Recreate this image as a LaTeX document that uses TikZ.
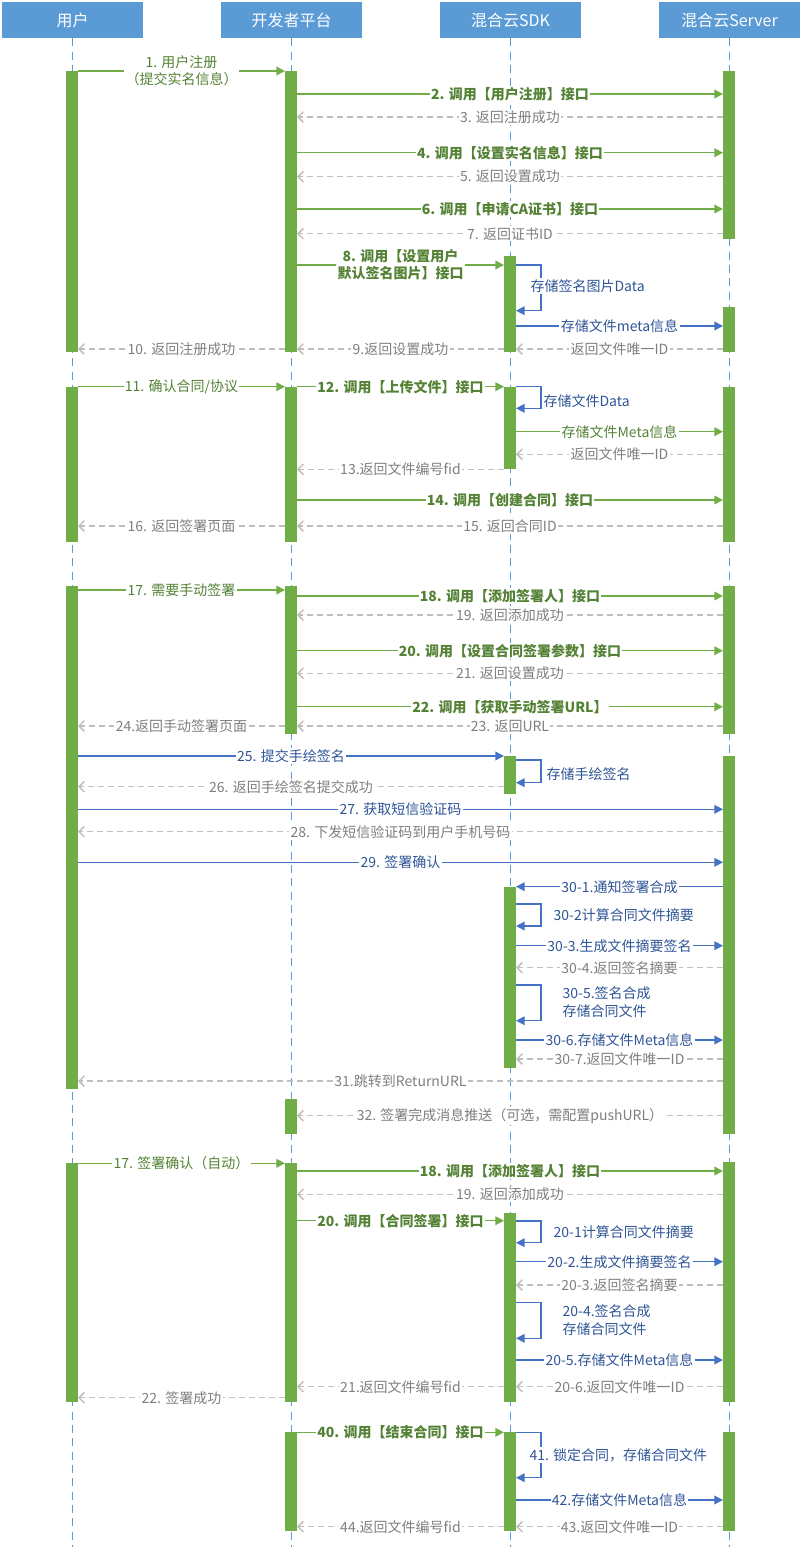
\documentclass[tikz,border=0pt]{standalone}
\usepackage{fontspec}
\setmainfont{Noto Sans CJK SC}
\usetikzlibrary{arrows.meta}
\definecolor{hdr}{HTML}{5B9BD5}
\definecolor{barG}{HTML}{70AD47}
\definecolor{lineG}{HTML}{70AD47}
\definecolor{txtG}{HTML}{548235}
\definecolor{lineB}{HTML}{4472C4}
\definecolor{txtB}{HTML}{2F5597}
\definecolor{lineR}{HTML}{BFBFBF}
\definecolor{txtR}{HTML}{7F7F7F}
\newcommand\abar[4]{\pgfmathsetmacro\bh{(#4-#3)*0.75}\node[actbar, minimum height=\bh pt] (#1) at (#2,#3) {};}
\newcommand\msg[5]{\draw[#1] (#2 |- 0,#4) -- node[lbl,lbl#1] {#5} (#3 |- 0,#4);}
\newcommand\selfloop[3]{\draw[loopst] (#1.east |- 0,#2) -- ++(25,0) |- (#1.east |- 0,#3);}
\begin{document}
\begin{tikzpicture}[x=0.75pt,y=-0.75pt, font=\fontsize{10.5}{13}\selectfont,
 hdrbox/.style={fill=hdr, text=white, minimum width=105.75pt, minimum height=27pt, inner sep=0pt, font=\fontsize{12}{14}\selectfont},
 lifeline/.style={draw=hdr, line width=0.75pt, dash pattern=on 6pt off 4pt},
 actbar/.style={fill=barG, minimum width=9pt, inner sep=0pt, outer sep=0pt, anchor=north},
 lbl/.style={fill=white, inner sep=1pt, midway, align=center},
 ug/.style={draw=lineG, line width=1.1pt, -{Triangle[length=6.5pt,width=6.5pt]}},
 call/.style={draw=lineG, line width=1.1pt, -{Triangle[length=6.5pt,width=6.5pt]}},
 bl/.style={draw=lineB, line width=1.1pt, -{Triangle[length=6.5pt,width=6.5pt]}},
 ret/.style={draw=lineR, line width=1.1pt, dash pattern=on 4.5pt off 3pt, -{Straight Barb[length=4pt,width=8pt]}},
 lblug/.style={text=txtG},
 lblcall/.style={text=txtG, font=\fontsize{10.5}{13}\selectfont\bfseries},
 lblbl/.style={text=txtB},
 lblret/.style={text=txtR},
 loopst/.style={draw=lineB, line width=1.1pt, -{Triangle[length=6.5pt,width=6.5pt]}},
 looplbl/.style={anchor=west, text=txtB, fill=white, inner sep=1pt, align=left}
]
\useasboundingbox (0,0) rectangle (802,1547);
% headers
\node[hdrbox] (hU) at (72.5,20) {用户};
\node[hdrbox] (hD) at (291.5,20) {开发者平台};
\node[hdrbox] (hK) at (510.5,20) {混合云SDK};
\node[hdrbox] (hS) at (729.5,20) {混合云Server};
\foreach \h in {hU,hD,hK,hS}{\draw[lifeline] (\h.south) -- (\h.south |- 0,1547);}
% activation bars
\abar{u1}{72}{71}{352}
\abar{d1}{291}{71}{352}
\abar{s1}{729}{71}{239}
\abar{k1}{510}{256}{352}
\abar{s2}{729}{307}{352}
\abar{u2}{72}{386.7}{541.7}
\abar{d2}{291}{386.7}{541.7}
\abar{k2}{510}{386.7}{469.3}
\abar{s3}{729}{386.7}{541.7}
\abar{u3}{72}{586}{1089}
\abar{d3}{291}{586}{734}
\abar{s4}{729}{586}{734}
\abar{k3}{510}{756}{794}
\abar{s5}{729}{756}{1134}
\abar{k4}{510}{886.7}{1067.7}
\abar{d4}{291}{1099.3}{1134}
\abar{u4}{72}{1163.3}{1402}
\abar{d5}{291}{1163.3}{1402}
\abar{s6}{729}{1162.3}{1402}
\abar{k5}{510}{1213.3}{1402}
\abar{d6}{291}{1432.3}{1530.7}
\abar{k6}{510}{1432.3}{1530.7}
\abar{s7}{729}{1432.3}{1530.7}
% section 1
\msg{ug}{u1.east}{d1.west}{71}{1. 用户注册\\（提交实名信息）}
\msg{call}{d1.east}{s1.west}{94}{2. 调用【用户注册】接口}
\msg{ret}{s1.west}{d1.east}{117}{3. 返回注册成功}
\msg{call}{d1.east}{s1.west}{152.7}{4. 调用【设置实名信息】接口}
\msg{ret}{s1.west}{d1.east}{176.7}{5. 返回设置成功}
\msg{call}{d1.east}{s1.west}{209}{6. 调用【申请CA证书】接口}
\msg{ret}{s1.west}{d1.east}{233.7}{7. 返回证书ID}
\msg{call}{d1.east}{k1.west}{265}{8. 调用【设置用户\\默认签名图片】接口}
\selfloop{k1}{265}{310.7}
\node[looplbl] (l1) at (529,285.7) {存储签名图片Data};
\msg{bl}{k1.east}{s2.west}{326}{存储文件meta信息}
\msg{ret}{d1.west}{u1.east}{349}{10. 返回注册成功}
\msg{ret}{k1.west}{d1.east}{349}{9.返回设置成功}
\msg{ret}{s2.west}{k1.east}{349}{返回文件唯一ID}
% section 2
\msg{ug}{u2.east}{d2.west}{386.7}{11. 确认合同/协议}
\msg{call}{d2.east}{k2.west}{386.7}{12. 调用【上传文件】接口}
\selfloop{k2}{386.7}{408.3}
\node[looplbl] (l2) at (542,400.7) {存储文件Data};
\msg{ug}{k2.east}{s3.west}{431.7}{存储文件Meta信息}
\msg{ret}{s3.west}{k2.east}{454.3}{返回文件唯一ID}
\msg{ret}{k2.west}{d2.east}{469.3}{13.返回文件编号fid}
\msg{call}{d2.east}{s3.west}{500}{14. 调用【创建合同】接口}
\msg{ret}{d2.west}{u2.east}{526}{16. 返回签署页面}
\msg{ret}{s3.west}{d2.east}{526}{15. 返回合同ID}
% section 3
\msg{ug}{u3.east}{d3.west}{590}{17. 需要手动签署}
\msg{call}{d3.east}{s4.west}{596}{18. 调用【添加签署人】接口}
\msg{ret}{s4.west}{d3.east}{615}{19. 返回添加成功}
\msg{call}{d3.east}{s4.west}{650.7}{20. 调用【设置合同签署参数】接口}
\msg{ret}{s4.west}{d3.east}{673.3}{21. 返回设置成功}
\msg{call}{d3.east}{s4.west}{706.7}{22. 调用【获取手动签署URL】}
\msg{ret}{d3.west}{u3.east}{726}{24.返回手动签署页面}
\msg{ret}{s4.west}{d3.east}{726}{23. 返回URL}
\msg{bl}{u3.east}{k3.west}{756}{25. 提交手绘签名}
\selfloop{k3}{760}{782.7}
\node[looplbl] (l3) at (545,774) {存储手绘签名};
\msg{ret}{k3.west}{u3.east}{786.7}{26. 返回手绘签名提交成功}
\msg{bl}{u3.east}{s5.west}{809.3}{27. 获取短信验证码}
\msg{ret}{s5.west}{u3.east}{831.7}{28. 下发短信验证码到用户手机号码}
\msg{bl}{u3.east}{s5.west}{862.3}{29. 签署确认}
\msg{bl}{s5.west}{k4.east}{886.7}{30-1.通知签署合成}
\selfloop{k4}{904}{926}
\node[looplbl] (l4) at (552,915) {30-2计算合同文件摘要};
\msg{bl}{k4.east}{s5.west}{945.7}{30-3.生成文件摘要签名}
\msg{ret}{s5.west}{k4.east}{967.7}{30-4.返回签名摘要}
\selfloop{k4}{985}{1020.7}
\node[looplbl] (l5) at (561,1002) {30-5.签名合成\\存储合同文件};
\msg{bl}{k4.east}{s5.west}{1040}{30-6.存储文件Meta信息}
\msg{ret}{s5.west}{k4.east}{1059}{30-7.返回文件唯一ID}
\msg{ret}{s5.west}{u3.east}{1081}{31.跳转到ReturnURL}
\msg{ret}{s5.west}{d4.east}{1115.7}{32. 签署完成消息推送（可选，需配置pushURL）}
% section 4
\msg{ug}{u4.east}{d5.west}{1163.3}{17. 签署确认（自动）}
\msg{call}{d5.east}{s6.west}{1171}{18. 调用【添加签署人】接口}
\msg{ret}{s6.west}{d5.east}{1194.3}{19. 返回添加成功}
\msg{call}{d5.east}{k5.west}{1220.7}{20. 调用【合同签署】接口}
\selfloop{k5}{1221}{1242.7}
\node[looplbl] (l6) at (552,1232) {20-1计算合同文件摘要};
\msg{bl}{k5.east}{s6.west}{1261.7}{20-2.生成文件摘要签名}
\msg{ret}{s6.west}{k5.east}{1285}{20-3.返回签名摘要}
\selfloop{k5}{1302.3}{1338.3}
\node[looplbl] (l7) at (561,1320) {20-4.签名合成\\存储合同文件};
\msg{bl}{k5.east}{s6.west}{1360}{20-5.存储文件Meta信息}
\msg{ret}{k5.west}{d5.east}{1386.7}{21.返回文件编号fid}
\msg{ret}{s6.west}{k5.east}{1386.7}{20-6.返回文件唯一ID}
\msg{ret}{d5.west}{u4.east}{1397.7}{22. 签署成功}
% section 5
\msg{call}{d6.east}{k6.west}{1432.3}{40. 调用【结束合同】接口}
\selfloop{k6}{1432.3}{1477.7}
\node[looplbl] (l8) at (528,1455) {41. 锁定合同，存储合同文件};
\msg{bl}{k6.east}{s7.west}{1500}{42.存储文件Meta信息}
\msg{ret}{k6.west}{d6.east}{1526.7}{44.返回文件编号fid}
\msg{ret}{s7.west}{k6.east}{1526.7}{43.返回文件唯一ID}
\end{tikzpicture}
\end{document}
